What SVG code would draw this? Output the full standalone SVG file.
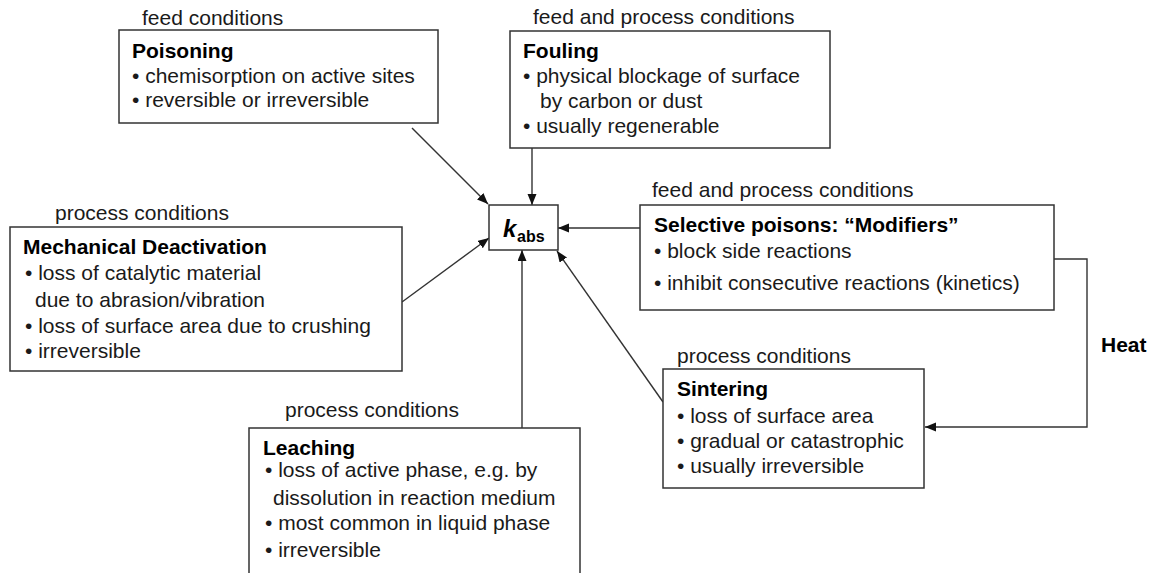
<svg xmlns="http://www.w3.org/2000/svg" width="1158" height="573" viewBox="0 0 1158 573">
<style>
text{font-family:"Liberation Sans",Arial,sans-serif;font-size:21px;fill:#1a1a1a}
.b{font-weight:bold;fill:#000}
.box{fill:#fff;stroke:#333;stroke-width:1.5}
.con{fill:none;stroke:#333;stroke-width:1.4}
</style>
<defs>
<marker id="ah" markerUnits="userSpaceOnUse" markerWidth="12" markerHeight="10" refX="11" refY="4.5" orient="auto">
<path d="M0,0 L11,4.5 L0,9 z" fill="#111"/>
</marker>
</defs>
<rect width="1158" height="573" fill="#fff"/>
<g id="connectors">
<line class="con" x1="412" y1="128" x2="488" y2="204" marker-end="url(#ah)"/>
<line class="con" x1="532" y1="148" x2="532" y2="205" marker-end="url(#ah)"/>
<line class="con" x1="640" y1="228" x2="558" y2="228" marker-end="url(#ah)"/>
<line class="con" x1="402" y1="302" x2="489" y2="238" marker-end="url(#ah)"/>
<line class="con" x1="522" y1="428" x2="522" y2="250" marker-end="url(#ah)"/>
<line class="con" x1="663" y1="402" x2="557" y2="251" marker-end="url(#ah)"/>
<polyline class="con" points="1054,259 1087,259 1087,427 925,427" marker-end="url(#ah)"/>
<text class="b" x="1101" y="352">Heat</text>
</g>
<g id="kabs">
<rect class="box" x="489" y="205" width="69" height="45"/>
<text class="b" x="503" y="237" style="font-size:24px;font-style:italic">k</text>
<text class="b" x="517" y="242" style="font-size:16px">abs</text>
</g>
<g id="poisoning">
<text x="142" y="25">feed conditions</text>
<rect class="box" x="119" y="30" width="319" height="93"/>
<text class="b" x="132" y="58">Poisoning</text>
<text x="132" y="83">• chemisorption on active sites</text>
<text x="132" y="107">• reversible or irreversible</text>
</g>
<g id="fouling">
<text x="533" y="24">feed and process conditions</text>
<rect class="box" x="510" y="31" width="320" height="117"/>
<text class="b" x="523" y="58">Fouling</text>
<text x="523" y="83">• physical blockage of surface</text>
<text x="540" y="108">by carbon or dust</text>
<text x="523" y="133">• usually regenerable</text>
</g>
<g id="selective">
<text x="652" y="197">feed and process conditions</text>
<rect class="box" x="640" y="205" width="414" height="105"/>
<text class="b" x="654" y="232">Selective poisons: “Modifiers”</text>
<text x="654" y="258">• block side reactions</text>
<text x="654" y="290">• inhibit consecutive reactions (kinetics)</text>
</g>
<g id="mechanical">
<text x="55" y="220">process conditions</text>
<rect class="box" x="10" y="227" width="392" height="144"/>
<text class="b" x="23" y="254">Mechanical Deactivation</text>
<text x="25" y="280">• loss of catalytic material</text>
<text x="35" y="307">due to abrasion/vibration</text>
<text x="25" y="333">• loss of surface area due to crushing</text>
<text x="25" y="358">• irreversible</text>
</g>
<g id="sintering">
<text x="677" y="363">process conditions</text>
<rect class="box" x="663" y="369" width="261" height="119"/>
<text class="b" x="677" y="396">Sintering</text>
<text x="677" y="423">• loss of surface area</text>
<text x="677" y="448">• gradual or catastrophic</text>
<text x="677" y="473">• usually irreversible</text>
</g>
<g id="leaching">
<text x="285" y="417">process conditions</text>
<rect class="box" x="249" y="428" width="331" height="160"/>
<text class="b" x="263" y="455">Leaching</text>
<text x="265" y="477">• loss of active phase, e.g. by</text>
<text x="273" y="505">dissolution in reaction medium</text>
<text x="265" y="530">• most common in liquid phase</text>
<text x="265" y="557">• irreversible</text>
</g>
</svg>
